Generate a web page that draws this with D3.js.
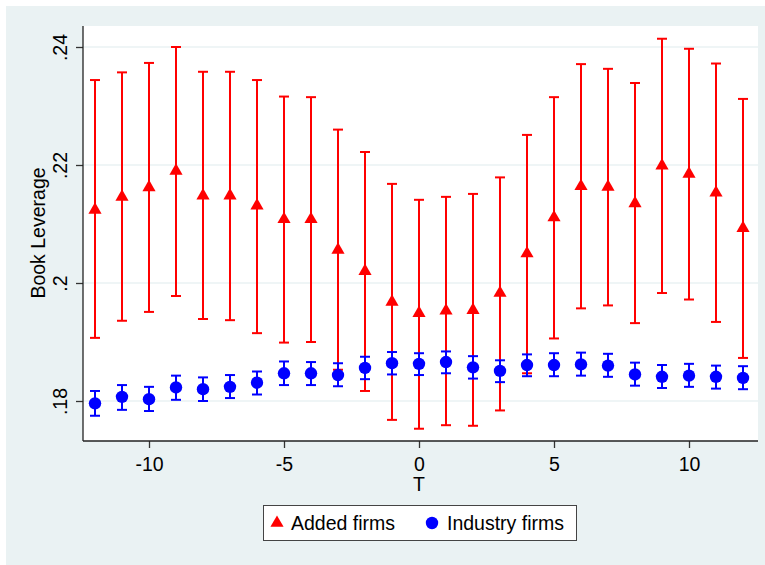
<!DOCTYPE html>
<html>
<head>
<meta charset="utf-8">
<script src="https://cdn.jsdelivr.net/npm/d3@7/dist/d3.min.js"></script>
<style>
  body { margin: 0; background: #fff; }
  svg { display: block; font-family: "Liberation Sans", Arial, sans-serif; }
</style>
</head>
<body>
<svg id="chart" width="765" height="565"></svg>
<script>
// Event time
const periods = d3.range(-12, 13)

// Added firms: mean and CI bounds
const addedMean = [0.2124, 0.2146, 0.2162, 0.2190, 0.2148, 0.2148, 0.2131, 0.2108, 0.2108, 0.2056, 0.2020, 0.1968, 0.1949,
                   0.1953, 0.1954, 0.1983, 0.2050, 0.2111, 0.2164, 0.2163, 0.2135, 0.2199, 0.2185, 0.2153, 0.2093]
const addedHi = [0.2344, 0.2357, 0.2373, 0.2400, 0.2358, 0.2358, 0.2344, 0.2316, 0.2315, 0.2260, 0.2222, 0.2168, 0.2141,
                 0.2146, 0.2151, 0.2179, 0.2251, 0.2315, 0.2371, 0.2363, 0.2339, 0.2414, 0.2397, 0.2372, 0.2312]
const addedLo = [0.1907, 0.1936, 0.1951, 0.1978, 0.1939, 0.1937, 0.1915, 0.1899, 0.1900, 0.1853, 0.1817, 0.1768, 0.1753,
                 0.1759, 0.1758, 0.1784, 0.1847, 0.1906, 0.1957, 0.1962, 0.1932, 0.1983, 0.1972, 0.1934, 0.1873]

// Industry firms: mean and CI bounds
const industryMean = [0.1796, 0.1807, 0.1803, 0.1823, 0.1820, 0.1824, 0.1831, 0.1847, 0.1847, 0.1844, 0.1856, 0.1864, 0.1863,
                      0.1866, 0.1857, 0.1851, 0.1861, 0.1861, 0.1862, 0.1860, 0.1845, 0.1841, 0.1843, 0.1841, 0.1839]
const industryHi = [0.1817, 0.1827, 0.1824, 0.1843, 0.1840, 0.1844, 0.1850, 0.1867, 0.1866, 0.1864, 0.1875, 0.1883, 0.1881,
                    0.1884, 0.1876, 0.1869, 0.1879, 0.1881, 0.1882, 0.1880, 0.1865, 0.1861, 0.1863, 0.1860, 0.1859]
const industryLo = [0.1775, 0.1785, 0.1783, 0.1802, 0.1800, 0.1805, 0.1811, 0.1827, 0.1827, 0.1825, 0.1837, 0.1845, 0.1844,
                    0.1847, 0.1838, 0.1832, 0.1842, 0.1842, 0.1843, 0.1841, 0.1826, 0.1822, 0.1824, 0.1821, 0.1820]

const xTicks = [-10, -5, 0, 5, 10]
const yTicks = [0.18, 0.2, 0.22, 0.24]
const yTickLabels = ['.18', '.2', '.22', '.24']

const legendLabels = ['Added firms', 'Industry firms']

const BG = '#eaf2f3'
const RED = '#ff0000'
const BLUE = '#0000ff'
const FONT = '19.5px'

const svg = d3.select('#chart')

// Graph region
svg.append('rect')
  .attr('x', 6).attr('y', 6)
  .attr('width', 759).attr('height', 559)
  .style('fill', BG)

// Plot region
const plot = { left: 83, top: 26, right: 758, bottom: 441 }
svg.append('rect')
  .attr('x', plot.left).attr('y', plot.top)
  .attr('width', plot.right - plot.left)
  .attr('height', plot.bottom - plot.top)
  .style('fill', '#fff')

const x = d3.scaleLinear().domain([-12, 12]).range([95, 743])
const y = d3.scaleLinear().domain([0.18, 0.24]).range([401, 47])

// Gridlines
svg.append('g')
  .selectAll('line')
  .data(yTicks)
  .join('line')
  .attr('x1', plot.left).attr('x2', plot.right)
  .attr('y1', d => y(d)).attr('y2', d => y(d))
  .style('stroke', BG)
  .style('stroke-width', 1.5)

// Y axis
const yAxis = d3.axisLeft(y)
  .tickValues(yTicks)
  .tickFormat((d, i) => yTickLabels[i])
  .tickSize(7)

const yg = svg.append('g')
  .attr('transform', 'translate(' + plot.left + ',0)')
  .call(yAxis)
yg.select('.domain').remove()
yg.selectAll('.tick line').style('stroke', '#333').style('stroke-width', 1.3)
yg.selectAll('.tick text')
  .style('font-size', FONT)
  .style('fill', '#000')
  .attr('text-anchor', 'middle')
  .attr('dy', 0)
  .attr('x', 0)
  .attr('transform', 'translate(-16,0) rotate(-90)')

svg.append('line')
  .attr('x1', plot.left).attr('x2', plot.left)
  .attr('y1', plot.top).attr('y2', plot.bottom)
  .style('stroke', '#222').style('stroke-width', 1.3)

// X axis
const xAxis = d3.axisBottom(x)
  .tickValues(xTicks)
  .tickSize(7)
  .tickPadding(9)

const xg = svg.append('g')
  .attr('transform', 'translate(0,' + plot.bottom + ')')
  .call(xAxis)
xg.select('.domain').remove()
xg.selectAll('.tick line').style('stroke', '#333').style('stroke-width', 1.3)
xg.selectAll('.tick text')
  .style('font-size', FONT)
  .style('fill', '#000')
  .text(d => d < 0 ? '-' + Math.abs(d) : d)

svg.append('line')
  .attr('x1', plot.left).attr('x2', plot.right)
  .attr('y1', plot.bottom).attr('y2', plot.bottom)
  .style('stroke', '#222').style('stroke-width', 1.3)

// Axis titles
svg.append('text')
  .attr('transform', 'translate(45,233) rotate(-90)')
  .attr('text-anchor', 'middle')
  .style('font-size', FONT)
  .text('Book Leverage')

svg.append('text')
  .attr('x', x(0))
  .attr('y', 491)
  .attr('text-anchor', 'middle')
  .style('font-size', FONT)
  .text('T')

// Error bars + markers
const capHalf = 5

const drawSeries = (mean, lo, hi, color, cls) => {
  const g = svg.append('g').attr('class', cls)
  const rows = periods.map((p, i) => ({ p, m: mean[i], lo: lo[i], hi: hi[i] }))

  g.selectAll('line.stem')
    .data(rows).join('line')
    .attr('class', 'stem')
    .attr('x1', d => x(d.p)).attr('x2', d => x(d.p))
    .attr('y1', d => y(d.lo)).attr('y2', d => y(d.hi))
    .style('stroke', color).style('stroke-width', 2)

  ;['lo', 'hi'].forEach(k => {
    g.selectAll('line.cap-' + k)
      .data(rows).join('line')
      .attr('class', 'cap-' + k)
      .attr('x1', d => x(d.p) - capHalf).attr('x2', d => x(d.p) + capHalf)
      .attr('y1', d => y(d[k])).attr('y2', d => y(d[k]))
      .style('stroke', color).style('stroke-width', 2)
  })
  return { g, rows }
}

const added = drawSeries(addedMean, addedLo, addedHi, RED, 'added')
const triangle = d3.symbol().type(d3.symbolTriangle).size(75)
added.g.selectAll('path')
  .data(added.rows).join('path')
  .attr('d', triangle)
  .attr('transform', d => 'translate(' + x(d.p) + ',' + y(d.m) + ')')
  .style('fill', RED)

const industry = drawSeries(industryMean, industryLo, industryHi, BLUE, 'industry')
industry.g.selectAll('circle')
  .data(industry.rows).join('circle')
  .attr('cx', d => x(d.p)).attr('cy', d => y(d.m))
  .attr('r', 6.2)
  .style('fill', BLUE)

// Legend
const legend = svg.append('g').attr('class', 'legend')
legend.append('rect')
  .attr('x', 263.5).attr('y', 505.5)
  .attr('width', 313).attr('height', 35)
  .style('fill', '#fff')
  .style('stroke', '#444')
  .style('stroke-width', 1)

legend.append('path')
  .attr('d', d3.symbol().type(d3.symbolTriangle).size(75))
  .attr('transform', 'translate(277,523)')
  .style('fill', RED)
legend.append('text')
  .attr('x', 291).attr('y', 529.5)
  .style('font-size', FONT)
  .text(legendLabels[0])

legend.append('circle')
  .attr('cx', 432).attr('cy', 523)
  .attr('r', 6.2)
  .style('fill', BLUE)
legend.append('text')
  .attr('x', 447).attr('y', 529.5)
  .style('font-size', FONT)
  .text(legendLabels[1])
</script>
</body>
</html>
